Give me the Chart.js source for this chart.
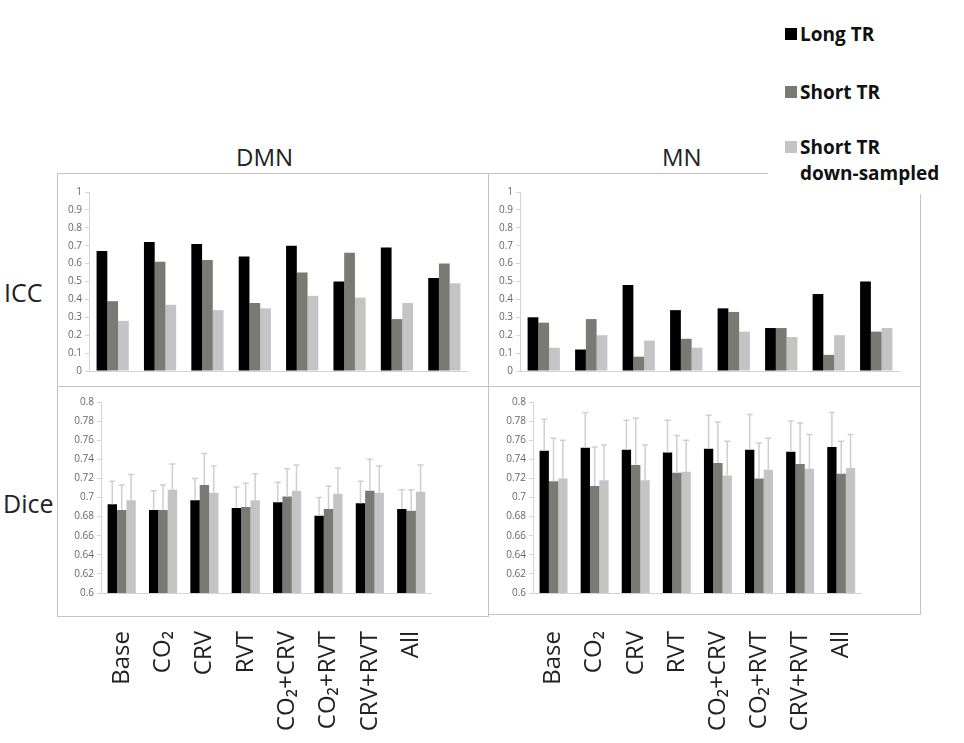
<!DOCTYPE html>
<html>
<head>
<meta charset="utf-8">
<script src="https://cdn.jsdelivr.net/npm/chart.js@4/dist/chart.umd.min.js"></script>
<style>
  html, body { margin: 0; padding: 0; background: #fff; }
  body { width: 964px; height: 743px; position: relative; overflow: hidden; font-family: "Open Sans", sans-serif; }
  .box { position: absolute; border: 1px solid #c4c4c4; box-sizing: border-box; }
  .wrap { position: absolute; }
  .lbl { position: absolute; color: #222; font-family: "Open Sans", sans-serif; white-space: nowrap; }
  .legend { position: absolute; left: 768px; top: 0; width: 196px; height: 194px; background: #fff; }
  .legend .sw { position: absolute; width: 12px; height: 12px; }
  .legend .tx { position: absolute; font-weight: bold; font-size: 19px; line-height: 26px; color: #111; }
</style>
</head>
<body>
<div class="box" style="left:57px;top:173px;width:432px;height:214px;"></div>
<div class="box" style="left:488px;top:173px;width:433px;height:214px;"></div>
<div class="box" style="left:57px;top:386px;width:432px;height:231px;"></div>
<div class="box" style="left:488px;top:386px;width:433px;height:229px;"></div>

<div class="lbl" style="left:236px;top:140px;font-size:24px;">DMN</div>
<div class="lbl" style="left:662px;top:140px;font-size:24px;">MN</div>
<div class="lbl" style="left:4px;top:275px;font-size:25px;">ICC</div>
<div class="lbl" style="left:3px;top:486px;font-size:25px;">Dice</div>

<div class="wrap" style="left:58px;top:183px;"><canvas id="c1" width="410" height="197"></canvas></div>
<div class="wrap" style="left:489px;top:183px;"><canvas id="c2" width="411" height="197"></canvas></div>
<div class="wrap" style="left:63px;top:393px;"><canvas id="c3" width="407" height="350"></canvas></div>
<div class="wrap" style="left:495px;top:393px;"><canvas id="c4" width="405" height="350"></canvas></div>

<div class="legend">
  <div class="sw" style="left:17px;top:28px;background:#000;"></div>
  <div class="tx" style="left:32px;top:21px;">Long TR</div>
  <div class="sw" style="left:17px;top:86px;background:#7a7a74;"></div>
  <div class="tx" style="left:32px;top:79px;">Short TR</div>
  <div class="sw" style="left:17px;top:141px;background:#c4c4c4;"></div>
  <div class="tx" style="left:32px;top:134px;">Short TR<br>down-sampled</div>
</div>

<script>
// ---- Data ----
const categories = ["Base", "CO\u2082", "CRV", "RVT", "CO\u2082+CRV", "CO\u2082+RVT", "CRV+RVT", "All"];
const seriesNames = ["Long TR", "Short TR", "Short TR down-sampled"];

// ICC, DMN
const iccDmnLong  = [0.67, 0.72, 0.71, 0.64, 0.70, 0.50, 0.69, 0.52];
const iccDmnShort = [0.39, 0.61, 0.62, 0.38, 0.55, 0.66, 0.29, 0.60];
const iccDmnDown  = [0.28, 0.37, 0.34, 0.35, 0.42, 0.41, 0.38, 0.49];

// ICC, MN
const iccMnLong  = [0.30, 0.12, 0.48, 0.34, 0.35, 0.24, 0.43, 0.50];
const iccMnShort = [0.27, 0.29, 0.08, 0.18, 0.33, 0.24, 0.09, 0.22];
const iccMnDown  = [0.13, 0.20, 0.17, 0.13, 0.22, 0.19, 0.20, 0.24];

// Dice, DMN (mean and upper error-bar end)
const diceDmnLong     = [0.693, 0.687, 0.697, 0.689, 0.695, 0.681, 0.694, 0.688];
const diceDmnLongTop  = [0.717, 0.707, 0.720, 0.711, 0.716, 0.700, 0.717, 0.708];
const diceDmnShort    = [0.687, 0.687, 0.713, 0.690, 0.701, 0.688, 0.707, 0.686];
const diceDmnShortTop = [0.713, 0.713, 0.746, 0.715, 0.730, 0.712, 0.740, 0.708];
const diceDmnDown     = [0.697, 0.708, 0.705, 0.697, 0.707, 0.704, 0.705, 0.706];
const diceDmnDownTop  = [0.724, 0.735, 0.733, 0.725, 0.734, 0.731, 0.733, 0.734];

// Dice, MN
const diceMnLong     = [0.749, 0.752, 0.750, 0.747, 0.751, 0.750, 0.748, 0.753];
const diceMnLongTop  = [0.782, 0.789, 0.781, 0.781, 0.786, 0.787, 0.780, 0.789];
const diceMnShort    = [0.717, 0.712, 0.734, 0.726, 0.736, 0.720, 0.735, 0.725];
const diceMnShortTop = [0.762, 0.753, 0.783, 0.765, 0.779, 0.757, 0.778, 0.759];
const diceMnDown     = [0.720, 0.718, 0.718, 0.727, 0.723, 0.729, 0.730, 0.731];
const diceMnDownTop  = [0.760, 0.755, 0.755, 0.760, 0.759, 0.762, 0.766, 0.766];

const iccTicks = { min: 0, max: 1, step: 0.1 };
const diceTicks = { min: 0.6, max: 0.8, step: 0.02 };

// ---- Styles ----
const colors = ["#000000", "#7a7a74", "#c4c4c4"];
const errColor = "#cfcfcf";

const errorBarPlugin = {
  id: "errbars",
  afterDatasetsDraw(chart) {
    const ctx = chart.ctx;
    const yScale = chart.scales.y;
    chart.data.datasets.forEach((ds, di) => {
      if (!ds.errTop) return;
      const meta = chart.getDatasetMeta(di);
      meta.data.forEach((bar, i) => {
        const yTop = yScale.getPixelForValue(ds.errTop[i]);
        ctx.save();
        ctx.strokeStyle = errColor;
        ctx.lineWidth = 1.5;
        ctx.beginPath();
        ctx.moveTo(bar.x, bar.y);
        ctx.lineTo(bar.x, yTop);
        ctx.moveTo(bar.x - 3, yTop);
        ctx.lineTo(bar.x + 3, yTop);
        ctx.stroke();
        ctx.restore();
      });
    });
  }
};

function makeChart(id, series, tops, tk, showX, yWidth) {
  const datasets = series.map((vals, k) => ({
    label: seriesNames[k],
    data: vals,
    backgroundColor: colors[k],
    borderWidth: 0,
    barPercentage: 1.0,
    categoryPercentage: 0.68,
    errTop: tops ? tops[k] : null
  }));
  return new Chart(document.getElementById(id), {
    type: "bar",
    data: { labels: categories, datasets },
    plugins: [errorBarPlugin],
    options: {
      responsive: false,
      animation: false,
      devicePixelRatio: 1,
      layout: { padding: { top: 7, bottom: showX ? 0 : 3, left: 0, right: 0 } },
      plugins: { legend: { display: false }, tooltip: { enabled: false } },
      scales: {
        x: {
          grid: { display: false },
          border: { display: true, color: "#d4d4d4", width: 1 },
          ticks: {
            display: showX,
            autoSkip: false,
            minRotation: 90,
            maxRotation: 90,
            padding: 30,
            color: "#222",
            font: { family: "Open Sans", size: 24 }
          },
          afterFit(s) { s.height = showX ? 150 : 0; }
        },
        y: {
          min: tk.min,
          max: tk.max,
          grid: { drawOnChartArea: false, drawTicks: true, tickLength: 4, color: "#d4d4d4" },
          border: { display: true, color: "#d4d4d4", width: 1 },
          ticks: {
            stepSize: tk.step,
            padding: 3,
            color: "#666",
            font: { family: "Open Sans", size: 10 },
            callback: v => String(+(+v).toFixed(2))
          },
          afterFit(s) { s.width = yWidth; }
        }
      }
    }
  });
}

makeChart("c1", [iccDmnLong, iccDmnShort, iccDmnDown], null, iccTicks, false, 31);
makeChart("c2", [iccMnLong, iccMnShort, iccMnDown], null, iccTicks, false, 31);
makeChart("c3", [diceDmnLong, diceDmnShort, diceDmnDown], [diceDmnLongTop, diceDmnShortTop, diceDmnDownTop], diceTicks, true, 38);
makeChart("c4", [diceMnLong, diceMnShort, diceMnDown], [diceMnLongTop, diceMnShortTop, diceMnDownTop], diceTicks, true, 38);
</script>
</body>
</html>
